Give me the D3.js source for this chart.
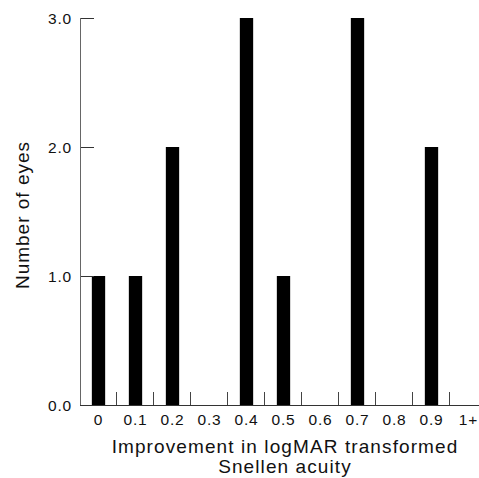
<!DOCTYPE html>
<html>
<head>
<meta charset="utf-8">
<script src="https://cdn.jsdelivr.net/npm/d3@7"></script>
<style>
	body { margin: 0; background: #fff; }
	svg text { font-family: "Liberation Sans", Arial, sans-serif; fill: #111; }
</style>
</head>
<body>
<div id="chart"></div>
<script>
// data
var categories = [ "0", "0.1", "0.2", "0.3", "0.4", "0.5", "0.6", "0.7", "0.8", "0.9", "1+" ];
var eyes = [ 1, 1, 2, 0, 3, 1, 0, 3, 0, 2, 0 ];
var yTicks = [ 0, 1, 2, 3 ];

var data = categories.map( function( c, i ) {
	return { cat: c, n: eyes[ i ] };
} );

var margin = { top: 18, right: 0, bottom: 73, left: 80 },
	width = 479 - margin.left - margin.right,
	height = 478 - margin.top - margin.bottom;

var svg = d3.select( "#chart" )
	.append( "svg" )
	.attr( "width", 479 )
	.attr( "height", 478 );

var g = svg.append( "g" )
	.attr( "transform", "translate(" + margin.left + "," + margin.top + ")" );

// band step of 37px, a bit wider than the visible area
var x = d3.scaleBand()
	.domain( categories )
	.range( [ 0, 37 * categories.length ] )
	.paddingInner( 0.64 )
	.paddingOuter( 0.32 );

var y = d3.scaleLinear()
	.domain( [ 0, 3 ] )
	.range( [ height, 0 ] );

// bars
g.selectAll( ".bar" )
	.data( data.filter( function( d ) { return d.n > 0; } ) )
	.enter()
	.append( "rect" )
	.attr( "class", "bar" )
	.attr( "x", function( d ) { return x( d.cat ); } )
	.attr( "y", function( d ) { return y( d.n ); } )
	.attr( "width", x.bandwidth() )
	.attr( "height", function( d ) { return height - y( d.n ); } )
	.style( "fill", "#000" );

// y axis, ticks pointing inwards
var yAxis = d3.axisRight( y )
	.tickValues( yTicks )
	.tickSize( 14 )
	.tickFormat( d3.format( ".1f" ) );

var ya = g.append( "g" )
	.attr( "class", "y axis" )
	.call( yAxis );
ya.attr( "font-size", null ).attr( "font-family", null );
ya.select( ".domain" ).remove();
ya.selectAll( "line" ).attr( "stroke", "#333" );
ya.selectAll( "text" )
	.attr( "x", -8 )
	.attr( "dy", "0.35em" )
	.style( "text-anchor", "end" )
	.style( "font-size", "15.5px" )
	.style( "letter-spacing", "0.8px" );

g.append( "line" )
	.attr( "x1", 0.5 ).attr( "x2", 0.5 )
	.attr( "y1", y( 3 ) ).attr( "y2", height )
	.attr( "stroke", "#666" );

// x axis line + separator ticks between categories
g.append( "line" )
	.attr( "x1", 0 ).attr( "x2", width )
	.attr( "y1", height + 0.5 ).attr( "y2", height + 0.5 )
	.attr( "stroke", "#333" );

function sepX ( d ) {
	return Math.round( x( d ) + x.bandwidth() / 2 + x.step() / 2 ) - 0.5;
}

g.selectAll( ".sep" )
	.data( categories.slice( 0, categories.length - 1 ) )
	.enter()
	.append( "line" )
	.attr( "class", "sep" )
	.attr( "x1", sepX )
	.attr( "x2", sepX )
	.attr( "y1", height - 13 )
	.attr( "y2", height )
	.attr( "stroke", "#444" );

g.selectAll( ".xlab" )
	.data( categories )
	.enter()
	.append( "text" )
	.attr( "class", "xlab" )
	.attr( "x", function( d ) { return x( d ) + x.bandwidth() / 2; } )
	.attr( "y", height + 20 )
	.style( "text-anchor", "middle" )
	.style( "font-size", "15.5px" )
	.style( "letter-spacing", "0.8px" )
	.text( function( d ) { return d; } );

// axis titles
svg.append( "text" )
	.attr( "x", 285 )
	.attr( "y", 453 )
	.style( "text-anchor", "middle" )
	.style( "font-size", "19px" )
	.style( "letter-spacing", "1.1px" )
	.text( "Improvement in logMAR transformed" );

svg.append( "text" )
	.attr( "x", 285 )
	.attr( "y", 473 )
	.style( "text-anchor", "middle" )
	.style( "font-size", "19px" )
	.style( "letter-spacing", "1.1px" )
	.text( "Snellen acuity" );

svg.append( "text" )
	.attr( "transform", "translate(29,215) rotate(-90)" )
	.style( "text-anchor", "middle" )
	.style( "font-size", "19px" )
	.style( "letter-spacing", "1px" )
	.text( "Number of eyes" );
</script>
</body>
</html>
